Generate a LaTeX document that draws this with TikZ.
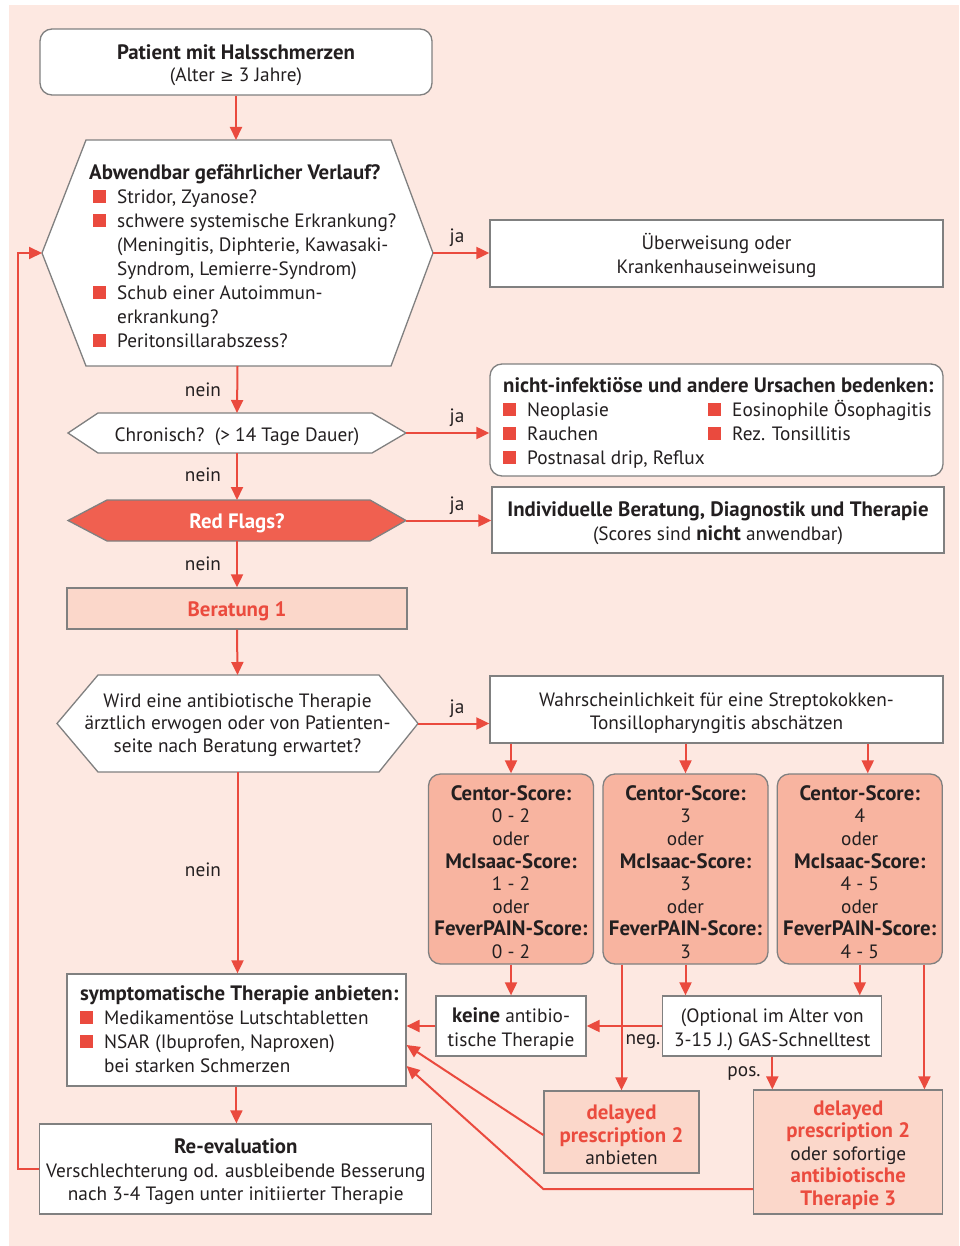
\documentclass[tikz,border=0pt]{standalone}
\usepackage{fontspec}
\setmainfont{PT Sans}[BoldFeatures={Scale=1.08}]
\newfontfamily\symf{DejaVu Sans}
\usetikzlibrary{arrows.meta,calc}
\definecolor{bgpink}{HTML}{FDE8E1}
\definecolor{bgray}{HTML}{808080}
\definecolor{ared}{HTML}{EA4A3E}
\definecolor{bred}{HTML}{EA4A3E}
\definecolor{tred}{HTML}{EB4B3E}
\definecolor{tdark}{HTML}{231F20}
\definecolor{rffill}{HTML}{F06050}
\definecolor{scfill}{HTML}{F8B4A0}
\definecolor{ltfill}{HTML}{FBD7CA}
\newcommand\bul{\makebox[24pt][l]{\textcolor{bred}{\rule{13pt}{13pt}}}}
\newcommand\rb[1]{\textcolor{tred}{\textbf{#1}}}
\newcommand\tp{\rule{0pt}{21pt}}
\begin{document}
\begin{tikzpicture}[x=1pt,y=-1pt,
  font=\fontsize{19.3}{24}\selectfont, text=tdark,
  box/.style={draw=bgray, line width=1.3pt, fill=white, inner sep=0pt, align=center},
  rbox/.style={box, rounded corners=12pt},
  hexnode/.style={inner sep=0pt, outer sep=0pt},
  hexline/.style={draw=bgray, line width=1.3pt, fill=white},
  txt/.style={inner sep=0pt, align=left, anchor=north west},
  lbl/.style={inner sep=0pt},
  arr/.style={draw=ared, line width=2pt, -{Triangle[length=13pt,width=12pt]}},
  ln/.style={draw=ared, line width=2pt}]
\useasboundingbox (0,0) rectangle (959,1246);
\fill[bgpink] (9,5) rectangle (959,1246);

% start
\node[rbox, minimum width=392pt, minimum height=66pt, font=\fontsize{19.3}{22}\selectfont] (start) at (236,62)
  {\tp\textbf{Patient mit Halsschmerzen}\\(Alter {\symf\fontsize{16.4}{22}\selectfont ≥} 3 Jahre)};

% hex 1
\node[hexnode, minimum width=391pt, minimum height=226pt] (h1) at (237.5,253) {};
\path[hexline] ([xshift=44pt]h1.north west) -- ([xshift=-42pt]h1.north east) -- (h1.east)
  -- ([xshift=-42pt]h1.south east) -- ([xshift=44pt]h1.south west) -- (h1.west) -- cycle;
\node[txt] (h1t) at (89,162.2) {\strut\textbf{Abwendbar gefährlicher Verlauf?}\\
  \hspace*{4pt}\bul Stridor, Zyanose?\\
  \hspace*{4pt}\bul schwere systemische Erkrankung?\\
  \hspace*{28pt}(Meningitis, Diphterie, Kawasaki-\\
  \hspace*{28pt}Syndrom, Lemierre-Syndrom)\\
  \hspace*{4pt}\bul Schub einer Autoimmun-\\
  \hspace*{28pt}erkrankung?\\
  \hspace*{4pt}\bul Peritonsillarabszess?};

\node[box, minimum width=453pt, minimum height=67pt] (ub) at (716.5,253.5)
  {\tp Überweisung oder\\Krankenhauseinweisung};

% hex 2
\node[hexnode, minimum width=338pt, minimum height=40pt] (h2) at (237,433) {};
\path[hexline] ([xshift=30pt]h2.north west) -- ([xshift=-34pt]h2.north east) -- (h2.east)
  -- ([xshift=-34pt]h2.south east) -- ([xshift=30pt]h2.south west) -- (h2.west) -- cycle;
\node[lbl] (h2t) at (237,433) {\tp Chronisch?~~(> 14 Tage Dauer)};

\node[rbox, minimum width=453pt, minimum height=112pt] (ni) at (716.5,420) {};
\node[txt] (nit) at (503,375.2) {\strut\textbf{nicht-infektiöse und andere Ursachen bedenken:}\\
  \makebox[205pt][l]{\bul Neoplasie}\bul Eosinophile Ösophagitis\\
  \makebox[205pt][l]{\bul Rauchen}\bul Rez. Tonsillitis\\
  \bul Postnasal drip, Reflux};

% red flags
\node[hexnode, minimum width=338pt, minimum height=41pt] (rf) at (237,520.5) {};
\path[draw=bgray, line width=1.3pt, fill=rffill] ([xshift=39pt]rf.north west) -- ([xshift=-36pt]rf.north east) -- (rf.east)
  -- ([xshift=-36pt]rf.south east) -- ([xshift=39pt]rf.south west) -- (rf.west) -- cycle;
\node[lbl, text=white, font=\fontsize{19.3}{24}\selectfont\bfseries] (rft) at (237,520.5) {\tp Red Flags?};

\node[box, minimum width=452pt, minimum height=66pt] (ind) at (718,520)
  {\tp\textbf{Individuelle Beratung, Diagnostik und Therapie}\\(Scores sind \textbf{nicht} anwendbar)};

% Beratung
\node[box, fill=ltfill, minimum width=340pt, minimum height=41pt] (ber) at (237,608.5) {\tp\rb{Beratung 1}};

% hex 3
\node[hexnode, minimum width=361pt, minimum height=97pt] (h3) at (237.5,723.5) {};
\path[hexline] ([xshift=41pt]h3.north west) -- ([xshift=-39pt]h3.north east) -- (h3.east)
  -- ([xshift=-39pt]h3.south east) -- ([xshift=41pt]h3.south west) -- (h3.west) -- cycle;
\node[lbl, align=center, font=\fontsize{19.3}{22.8}\selectfont] (h3t) at (237.5,723.5)
  {\rule{0pt}{17pt}Wird eine antibiotische Therapie\\ärztlich erwogen oder von Patienten-\\seite nach Beratung erwartet?};

\node[box, minimum width=453pt, minimum height=67pt, font=\fontsize{19.3}{23}\selectfont] (wa) at (716.5,709.5)
  {\tp Wahrscheinlichkeit für eine Streptokokken-\\Tonsillopharyngitis abschätzen};

% score boxes
\tikzset{score/.style={rbox, fill=scfill, minimum width=165pt, minimum height=190pt, font=\fontsize{19.3}{22.6}\selectfont}}
\node[score] (s1) at (511,869) {\tp\textbf{Centor-Score:}\\0 - 2\\oder\\\textbf{McIsaac-Score:}\\1 - 2\\oder\\\textbf{FeverPAIN-Score:}\\0 - 2};
\node[score] (s2) at (685.5,869) {\tp\textbf{Centor-Score:}\\3\\oder\\\textbf{McIsaac-Score:}\\3\\oder\\\textbf{FeverPAIN-Score:}\\3};
\node[score] (s3) at (859.75,869) {\tp\textbf{Centor-Score:}\\4\\oder\\\textbf{McIsaac-Score:}\\4 - 5\\oder\\\textbf{FeverPAIN-Score:}\\4 - 5};

\node[box, minimum width=150pt, minimum height=60pt] (ke) at (511,1026) {\tp\textbf{keine} antibio-\\tische Therapie};
\node[box, minimum width=219pt, minimum height=60pt] (gas) at (772.3,1026) {\tp(Optional im Alter von\\3-15 J.) GAS-Schnelltest};

\node[box, fill=ltfill, minimum width=155pt, minimum height=82pt, font=\fontsize{19.3}{22.5}\selectfont] (d1) at (621.5,1132)
  {\tp\rb{delayed}\\\rb{prescription 2}\\anbieten};
\node[box, fill=ltfill, minimum width=189pt, minimum height=124pt, font=\fontsize{19.3}{22.5}\selectfont] (d2) at (848.3,1152)
  {\tp\rb{delayed}\\\rb{prescription 2}\\oder sofortige\\\rb{antibiotische}\\\rb{Therapie 3}};

\node[box, minimum width=339pt, minimum height=112pt] (sy) at (236.4,1030) {};
\node[txt] (syt) at (80,983.2) {\strut\textbf{symptomatische Therapie anbieten:}\\
  \bul Medikamentöse Lutschtabletten\\
  \bul NSAR (Ibuprofen, Naproxen)\\
  \hspace*{24pt}bei starken Schmerzen};

\node[box, minimum width=392pt, minimum height=90pt, font=\fontsize{19.3}{23.5}\selectfont] (re) at (235.8,1169)
  {\tp\textbf{Re-evaluation}\\Verschlechterung od. ausbleibende Besserung\\nach 3-4 Tagen unter initiierter Therapie};

% labels
\node[lbl] (ja1) at (457,238) {ja};
\node[lbl] (ja2) at (457,418) {ja};
\node[lbl] (ja3) at (457,506) {ja};
\node[lbl] (ja4) at (457,709) {ja};
\node[lbl] (ne1) at (203,390) {nein};
\node[lbl] (ne2) at (203,475) {nein};
\node[lbl] (ne3) at (203,564) {nein};
\node[lbl] (ne4) at (203,870) {nein};
\node[lbl] (neg) at (643,1042) {neg.};
\node[lbl] (pos) at (744,1073) {pos.};

% connectors
\draw[arr] (start.south) -- (h1.north -| start.south);
\draw[arr] (h1.east) -- (ub.west |- h1.east);
\draw[arr] (h1.south) -- (h2.north);
\draw[arr] (h2.east) -- (ni.west |- h2.east);
\draw[arr] (h2.south) -- (rf.north);
\draw[arr] (rf.east) -- (ind.west |- rf.east);
\draw[arr] (rf.south) -- (ber.north);
\draw[arr] (ber.south) -- (h3.north);
\draw[arr] (h3.east) -- (wa.west |- h3.east);
\draw[arr] (h3.south) -- (sy.north -| h3.south);
\draw[arr] (wa.south -| s1.north) -- (s1.north);
\draw[arr] (wa.south -| s2.north) -- (s2.north);
\coordinate (s3in) at ($(s3.north)+(8,0)$);
\draw[arr] (wa.south -| s3in) -- (s3in);
\draw[arr] (s1.south) -- (ke.north);
\draw[arr] (s2.south) -- (s2.south |- gas.north);
\draw[arr] (s3.south) -- (s3.south |- gas.north);
\draw[arr] (d1.north |- s2.south) -- (d1.north);
\coordinate (d2in) at ($(d2.north east)+(-19,0)$);
\draw[arr] (d2in |- s3.south) -- (d2in);
\draw[arr] (gas.south) -- (gas.south |- d2.north);
\draw[arr] (gas.west) -- (ke.east);
\draw[arr] (ke.west) -- (sy.east |- ke.west);
\draw[arr] ($(d1.west)+(0,3)$) -- ($(sy.east)+(0,15)$);
\draw[arr] ($(d2.west)+(0,37)$) -- ($(d1.west |- d2.west)+(0,37)$) -- ($(sy.east)+(0,36)$);
\draw[arr] (sy.south) -- (re.north -| sy.south);
\draw[arr] (re.west) -- ++(-21,0) |- (h1.west);
\end{tikzpicture}
\end{document}
